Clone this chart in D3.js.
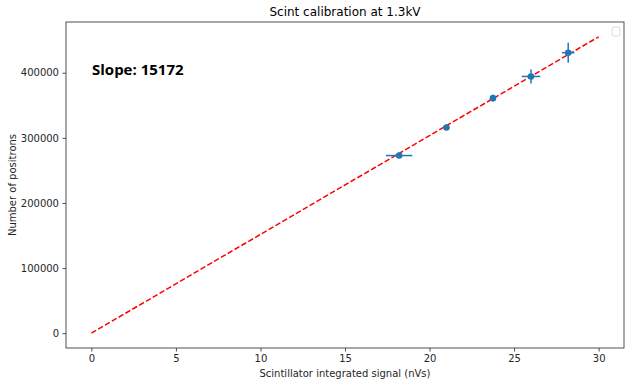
<!DOCTYPE html>
<html>
<head>
<meta charset="utf-8">
<script src="https://cdn.jsdelivr.net/npm/d3@7"></script>
<style>
  body { margin: 0; background: #fff; }
  svg { font-family: "DejaVu Sans", sans-serif; }
</style>
</head>
<body>
<svg id="graphe" width="631" height="386"></svg>
<script>
// Données
const signal = [18.2, 21.0, 23.75, 26.0, 28.2]          // nVs
const positrons = [272800, 315900, 361000, 394300, 430800]
const erreurSignal = [0.78, 0.1, 0.1, 0.55, 0.37]
const erreurPositrons = [2000, 4000, 5000, 10800, 15400]
const pente = 15172
const ajustementX = [0, 30]
const ticksX = [0, 5, 10, 15, 20, 25, 30]
const ticksY = [0, 100000, 200000, 300000, 400000]

const svg = d3.select("#graphe")
const gauche = 66, droite = 624, haut = 22, bas = 348

const x = d3.scaleLinear().domain([-1.5, 31.5]).range([gauche, droite])
const y = d3.scaleLinear().domain([-pente * 30 * 0.05, pente * 30 * 1.05]).range([bas, haut])

// Axes
svg.append("g")
    .attr("transform", `translate(0,${bas})`)
    .call(d3.axisBottom(x).tickValues(ticksX).tickSize(3.5).tickPadding(3.5).tickFormat(d3.format("d")))
svg.append("g")
    .attr("transform", `translate(${gauche},0)`)
    .call(d3.axisLeft(y).tickValues(ticksY).tickSize(3.5).tickPadding(3.5).tickFormat(d3.format("d")))
svg.selectAll(".tick text").attr("font-size", 10).attr("fill", "#262626").attr("font-family", "DejaVu Sans")
svg.selectAll(".tick line").attr("stroke", "#262626").attr("stroke-width", 0.8)
svg.selectAll(".domain").remove()

// Cadre
svg.append("rect")
    .attr("x", gauche).attr("y", haut)
    .attr("width", droite - gauche).attr("height", bas - haut)
    .attr("fill", "none").attr("stroke", "#262626").attr("stroke-width", 0.8)

// Droite d'ajustement
svg.append("line")
    .attr("x1", x(ajustementX[0])).attr("y1", y(pente * ajustementX[0]))
    .attr("x2", x(ajustementX[1])).attr("y2", y(pente * ajustementX[1]))
    .attr("stroke", "red").attr("stroke-width", 1.5).attr("stroke-dasharray", "5.5,2.4")

// Barres d'erreur
const bleu = "#1f77b4"
const points = signal.map((s, i) => ({ s, p: positrons[i], es: erreurSignal[i], ep: erreurPositrons[i] }))
svg.selectAll(".errX").data(points).enter().append("line")
    .attr("x1", d => x(d.s - d.es)).attr("x2", d => x(d.s + d.es))
    .attr("y1", d => y(d.p)).attr("y2", d => y(d.p))
    .attr("stroke", bleu).attr("stroke-width", 1.5)
svg.selectAll(".errY").data(points).enter().append("line")
    .attr("x1", d => x(d.s)).attr("x2", d => x(d.s))
    .attr("y1", d => y(d.p - d.ep)).attr("y2", d => y(d.p + d.ep))
    .attr("stroke", bleu).attr("stroke-width", 1.5)
svg.selectAll(".pt").data(points).enter().append("circle")
    .attr("cx", d => x(d.s)).attr("cy", d => y(d.p)).attr("r", 3.3)
    .attr("fill", bleu)

// Légende vide
svg.append("rect")
    .attr("x", 612).attr("y", 27).attr("width", 8).attr("height", 9).attr("rx", 2)
    .attr("fill", "#fff").attr("stroke", "#d0d0d0").attr("stroke-width", 0.8)

// Textes
svg.append("text").attr("x", (gauche + droite) / 2).attr("y", 16)
    .attr("text-anchor", "middle").attr("font-size", 12).attr("fill", "#000")
    .text("Scint calibration at 1.3kV")
svg.append("text").attr("x", (gauche + droite) / 2).attr("y", 377)
    .attr("text-anchor", "middle").attr("font-size", 10).attr("fill", "#262626")
    .text("Scintillator integrated signal (nVs)")
svg.append("text").attr("transform", `translate(16,${(haut + bas) / 2}) rotate(-90)`)
    .attr("text-anchor", "middle").attr("font-size", 10).attr("fill", "#262626")
    .text("Number of positrons")
svg.append("text").attr("x", 92).attr("y", 75)
    .attr("font-size", 15).attr("font-weight", "bold").attr("font-family", "Open Sans")
    .attr("fill", "#000")
    .text("Slope: " + pente)
</script>
</body>
</html>
